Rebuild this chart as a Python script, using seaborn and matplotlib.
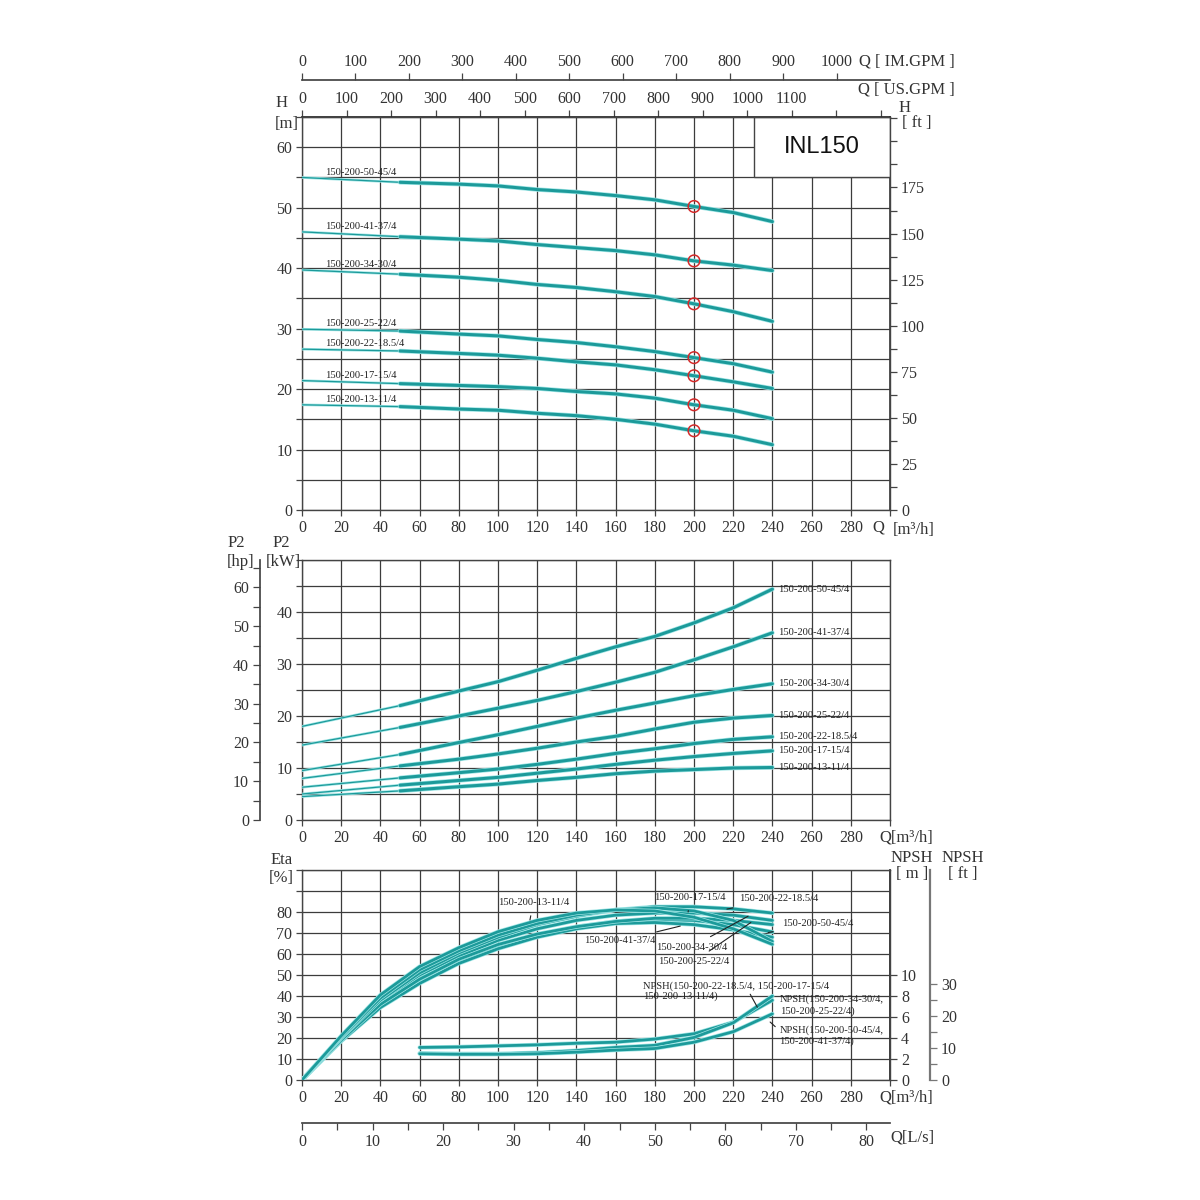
import numpy as np
import pandas as pd
import matplotlib
matplotlib.use("Agg")
import matplotlib.pyplot as plt
import matplotlib.patheffects as pe
from matplotlib.patches import Rectangle
from matplotlib.ticker import FixedLocator, FuncFormatter
import seaborn as sns

sns.set_theme(style="ticks")
plt.rcParams["font.family"] = ["Liberation Serif", "DejaVu Serif"]

# ---------------- data ----------------
models = ["150-200-50-45/4", "150-200-41-37/4", "150-200-34-30/4", "150-200-25-22/4",
          "150-200-22-18.5/4", "150-200-17-15/4", "150-200-13-11/4"]

q_curve = [0, 50, 80, 100, 120, 140, 160, 180, 200, 220, 240]

head_50_45 = [55.0, 54.2, 53.9, 53.6, 53.0, 52.6, 52.0, 51.3, 50.2, 49.2, 47.7]
head_41_37 = [46.0, 45.2, 44.8, 44.5, 43.9, 43.4, 42.9, 42.2, 41.2, 40.5, 39.6]
head_34_30 = [39.7, 39.0, 38.5, 38.0, 37.3, 36.8, 36.1, 35.3, 34.1, 32.8, 31.2]
head_25_22 = [29.9, 29.6, 29.1, 28.8, 28.2, 27.7, 27.0, 26.2, 25.2, 24.2, 22.8]
head_22_18 = [26.6, 26.3, 25.9, 25.6, 25.1, 24.5, 24.0, 23.2, 22.2, 21.2, 20.1]
head_17_15 = [21.4, 20.9, 20.6, 20.4, 20.1, 19.6, 19.2, 18.5, 17.4, 16.5, 15.1]
head_13_11 = [17.4, 17.1, 16.7, 16.5, 16.0, 15.6, 15.0, 14.2, 13.1, 12.2, 10.8]

power_50_45 = [18.0, 22.0, 24.8, 26.6, 28.8, 31.1, 33.3, 35.3, 37.9, 40.8, 44.4]
power_41_37 = [14.4, 17.8, 20.0, 21.5, 23.0, 24.7, 26.5, 28.4, 30.8, 33.3, 36.0]
power_34_30 = [9.5, 12.6, 14.9, 16.4, 18.0, 19.6, 21.1, 22.5, 23.9, 25.1, 26.2]
power_25_22 = [8.0, 10.4, 11.7, 12.7, 13.8, 15.0, 16.1, 17.5, 18.8, 19.6, 20.1]
power_22_18 = [6.3, 8.1, 9.1, 9.8, 10.7, 11.7, 12.8, 13.7, 14.7, 15.5, 16.0]
power_17_15 = [5.0, 6.7, 7.6, 8.2, 9.0, 9.8, 10.7, 11.5, 12.2, 12.8, 13.3]
power_13_11 = [4.5, 5.6, 6.4, 6.9, 7.6, 8.2, 8.9, 9.4, 9.7, 10.0, 10.1]

q_eta = [0, 20, 40, 60, 80, 100, 120, 140, 160, 180, 200, 220, 240]
eta_50_45 = [0, 19.0, 35.0, 47.0, 56.5, 63.5, 69.0, 73.0, 75.5, 76.5, 76.0, 74.0, 70.5]
eta_41_37 = [0, 18.5, 34.5, 46.0, 55.5, 62.5, 68.0, 72.0, 74.5, 75.0, 74.0, 71.5, 68.0]
eta_34_30 = [0, 19.5, 37.0, 50.0, 59.0, 66.5, 72.0, 76.0, 78.5, 79.5, 79.5, 78.5, 76.0]
eta_25_22 = [0, 19.0, 36.0, 48.0, 57.5, 64.5, 69.5, 73.0, 75.5, 77.0, 77.0, 76.0, 74.0]
eta_22_18 = [0, 20.0, 38.0, 51.0, 60.5, 68.0, 74.0, 78.0, 81.0, 82.5, 82.5, 81.5, 79.5]
eta_17_15 = [0, 20.5, 39.0, 52.5, 61.5, 69.0, 74.5, 78.5, 81.0, 82.0, 80.5, 76.0, 66.0]
eta_13_11 = [0, 21.0, 40.5, 54.0, 63.0, 70.6, 76.0, 79.5, 81.0, 80.5, 77.5, 72.0, 64.6]

q_npsh = [60, 80, 100, 120, 140, 160, 180, 200, 220, 240]
npsh_small = [3.1, 3.15, 3.25, 3.35, 3.5, 3.6, 3.9, 4.4, 5.5, 7.6]    # 22-18.5, 17-15, 13-11
npsh_mid = [2.55, 2.5, 2.5, 2.6, 2.8, 3.1, 3.3, 4.05, 5.45, 8.0]      # 34-30, 25-22
npsh_large = [2.5, 2.45, 2.45, 2.5, 2.65, 2.85, 3.0, 3.6, 4.6, 6.3]   # 50-45, 41-37

q_duty = 200

heads = [head_50_45, head_41_37, head_34_30, head_25_22, head_22_18, head_17_15, head_13_11]
powers = [power_50_45, power_41_37, power_34_30, power_25_22, power_22_18, power_17_15, power_13_11]
etas = [eta_50_45, eta_41_37, eta_34_30, eta_25_22, eta_22_18, eta_17_15, eta_13_11]

# ---------------- style ----------------
TEAL = "#1c9a9a"
HALO = "#9fe6e6"
GRID = "#3c3c3c"
TXT = "#333333"
TICKF = 11.5
LBLF = 7.6

fig = plt.figure(figsize=(12, 12), dpi=100)
fig.patch.set_facecolor("white")


def axes_px(x0, y0, x1, y1):
    return fig.add_axes([x0 / 1200, 1 - y1 / 1200, (x1 - x0) / 1200, (y1 - y0) / 1200])


def ftext(x, y, s, **kw):
    kw.setdefault("fontsize", 12)
    kw.setdefault("color", TXT)
    fig.text(x / 1200, 1 - y / 1200, s, **kw)


def curve(ax, q, v, lw, z=3):
    sns.lineplot(x=q, y=v, ax=ax, color=TEAL, lw=lw, sort=False, estimator=None,
                 legend=False, zorder=z,
                 path_effects=[pe.Stroke(linewidth=lw + 1.0, foreground=HALO), pe.Normal()])


def fmt_upto(limit, step):
    def f(v, p):
        if v <= limit + 1e-6 and abs(v / step - round(v / step)) < 1e-6:
            return f"{v:.0f}"
        return ""
    return FuncFormatter(f)


def base_axes(ax, ymax, ystep, ylab_max, ylab_step):
    ax.set_xlim(0, 300)
    ax.set_ylim(0, ymax)
    ax.xaxis.set_major_locator(FixedLocator(np.arange(0, 301, 20)))
    ax.xaxis.set_major_formatter(fmt_upto(280, 20))
    ax.yaxis.set_major_locator(FixedLocator(np.arange(0, ymax + 0.01, ystep)))
    ax.yaxis.set_major_formatter(fmt_upto(ylab_max, ylab_step))
    ax.grid(True, color=GRID, lw=0.9)
    ax.set_axisbelow(True)
    for s in ax.spines.values():
        s.set_color("#444444")
        s.set_linewidth(1.0)
    ax.tick_params(direction="out", length=4, width=0.9, color="#444444",
                   labelsize=TICKF, labelcolor=TXT, pad=3)
    ax.set_xlabel("")
    ax.set_ylabel("")


# ---------------- top: head ----------------
ax1 = axes_px(302, 117, 890, 510)
base_axes(ax1, 65, 5, 60, 10)
for name, h in zip(models, heads):
    curve(ax1, q_curve[:2], h[:2], 0.9)
    curve(ax1, q_curve[1:], h[1:], 2.2)
    ax1.text(12, h[0] + 0.15, name, fontsize=LBLF, color="#222222", ha="left", va="bottom", zorder=5)
duty_h = [h[q_curve.index(q_duty)] for h in heads]
ax1.scatter([q_duty] * len(duty_h), duty_h, s=70, facecolors="none", edgecolors="#d42a2a",
            linewidths=1.1, zorder=6)
ax1.add_patch(Rectangle((230.5, 55), 69.5, 10, facecolor="white", edgecolor="#444444",
                        lw=1.0, zorder=1.5))
ax1.text(265, 60, "INL150", fontsize=17, family=["Liberation Sans"], color="#111111",
         ha="center", va="center", zorder=5)

ft = ax1.secondary_yaxis("right", functions=(lambda m: m * 3.28084, lambda f: f / 3.28084))
ft.yaxis.set_major_locator(FixedLocator(np.arange(0, 213, 12.5)))
ft.yaxis.set_major_formatter(fmt_upto(175, 25))
ft.tick_params(direction="out", length=5, width=0.9, color="#444444", labelsize=TICKF,
               labelcolor=TXT, pad=3)
ft.spines["right"].set_color("#444444")

us = ax1.secondary_xaxis("top", functions=(lambda q: q * 4.40287, lambda g: g / 4.40287))
us.xaxis.set_major_locator(FixedLocator(np.arange(0, 1301, 100)))
us.xaxis.set_major_formatter(fmt_upto(1100, 100))
us.tick_params(direction="out", length=5, width=0.9, color="#444444", labelsize=TICKF,
               labelcolor=TXT, pad=2)

im = ax1.secondary_xaxis(1 + 37 / 393, functions=(lambda q: q * 3.66615, lambda g: g / 3.66615))
im.xaxis.set_major_locator(FixedLocator(np.arange(0, 1101, 100)))
im.xaxis.set_major_formatter(fmt_upto(1000, 100))
im.tick_params(direction="out", length=5, width=0.9, color="#444444", labelsize=TICKF,
               labelcolor=TXT, pad=2)
im.spines["top"].set_color("#444444")

ftext(955, 62, "Q [ IM.GPM ]", ha="right", va="center")
ftext(955, 90, "Q [ US.GPM ]", ha="right", va="center")
ftext(282, 103, "H", ha="center", va="center")
ftext(287, 124, "[m]", ha="center", va="center")
ftext(905, 108, "H", ha="center", va="center")
ftext(917, 123, "[ ft ]", ha="center", va="center")
ftext(878, 528, "Q", ha="center", va="center")
ftext(893, 530, "[m³/h]", ha="left", va="center")

# ---------------- middle: power ----------------
ax2 = axes_px(302, 560, 890, 820)
base_axes(ax2, 50, 5, 40, 10)
for name, p in zip(models, powers):
    curve(ax2, q_curve[:2], p[:2], 0.9)
    curve(ax2, q_curve[1:], p[1:], 2.2)
    ax2.text(243, p[-1], name, fontsize=LBLF, color="#222222", ha="left", va="center", zorder=5)

hp = ax2.secondary_yaxis(-42 / 588, functions=(lambda k: k * 1.34102, lambda h: h / 1.34102))
hp.yaxis.set_major_locator(FixedLocator(np.arange(0, 67, 5)))
hp.yaxis.set_major_formatter(fmt_upto(60, 10))
hp.tick_params(direction="out", length=5, width=0.9, color="#444444", labelsize=TICKF,
               labelcolor=TXT, pad=3)
hp.spines["left"].set_color("#444444")

ftext(236, 543, "P2", ha="center", va="center")
ftext(281, 543, "P2", ha="center", va="center")
ftext(241, 562, "[hp]", ha="center", va="center")
ftext(283, 562, "[kW]", ha="center", va="center")
ftext(879, 837, "Q[m³/h]", ha="left", va="center")

# ---------------- bottom: efficiency & NPSH ----------------
ax3 = axes_px(302, 870, 890, 1080)
base_axes(ax3, 100, 10, 80, 10)
for e in etas:
    curve(ax3, q_eta, e, 2.0)
for n in (npsh_small, npsh_mid, npsh_large):
    curve(ax3, q_npsh, [v * 5 for v in n], 2.0)

npm = ax3.secondary_yaxis("right", functions=(lambda e: e / 5, lambda m: m * 5))
npm.yaxis.set_major_locator(FixedLocator(np.arange(0, 10.1, 2)))
npm.tick_params(direction="out", length=5, width=0.9, color="#444444", labelsize=TICKF,
                labelcolor=TXT, pad=3)
npm.yaxis.set_major_formatter(FuncFormatter(lambda v, p: f"{v:.0f}"))

npf = ax3.secondary_yaxis(1 + 40 / 588, functions=(lambda e: e / 5 * 3.28084, lambda f: f / 3.28084 * 5))
npf.yaxis.set_major_locator(FixedLocator(np.arange(0, 31, 5)))
npf.yaxis.set_major_formatter(fmt_upto(30, 10))
npf.tick_params(direction="out", length=5, width=0.9, color="#777777", labelsize=TICKF,
                labelcolor=TXT, pad=3)
npf.spines["right"].set_color("#777777")
npf.spines["right"].set_linewidth(1.6)

ls = ax3.secondary_xaxis(-43 / 210, functions=(lambda q: q / 3.6, lambda l: l * 3.6))
ls.xaxis.set_major_locator(FixedLocator(np.arange(0, 83, 5)))
ls.xaxis.set_major_formatter(fmt_upto(80, 10))
ls.tick_params(direction="out", length=5, width=0.9, color="#444444", labelsize=TICKF,
               labelcolor=TXT, pad=3)
ls.spines["bottom"].set_color("#444444")

eta_labels = [
    ("150-200-13-11/4", (118, 84.5), (116.3, 76.2)),
    ("150-200-17-15/4", (198, 87.0), (197, 80.0)),
    ("150-200-22-18.5/4", (243, 86.2), (216.8, 81.4)),
    ("150-200-50-45/4", (263, 74.5), (237.8, 70.2)),
    ("150-200-41-37/4", (162, 66.2), (193, 73.3)),
    ("150-200-34-30/4", (198.6, 63.3), (227.6, 78.0)),
    ("150-200-25-22/4", (199.6, 56.2), (229, 75.0)),
]
for name, txy, pxy in eta_labels:
    ax3.annotate(name, xy=pxy, xytext=txy, fontsize=LBLF, color="#222222", ha="center",
                 va="center", zorder=6,
                 arrowprops=dict(arrowstyle="-", color="#222222", lw=0.8, shrinkA=4, shrinkB=0))

ax3.text(174, 44.8, "NPSH(150-200-22-18.5/4, 150-200-17-15/4", fontsize=LBLF, color="#222222",
         ha="left", va="center", zorder=6)
ax3.text(174, 40.0, "150-200-13-11/4)", fontsize=LBLF, color="#222222", ha="left", va="center",
         zorder=6)
ax3.annotate("", xy=(233, 33.5), xytext=(228, 42.0),
             arrowprops=dict(arrowstyle="-", color="#222222", lw=0.8))
ax3.text(244, 38.6, "NPSH(150-200-34-30/4,", fontsize=LBLF, color="#222222", ha="left",
         va="center", zorder=6)
ax3.text(244, 32.9, "150-200-25-22/4)", fontsize=LBLF, color="#222222", ha="left", va="center",
         zorder=6)
ax3.text(243.5, 23.8, "NPSH(150-200-50-45/4,", fontsize=LBLF, color="#222222", ha="left",
         va="center", zorder=6)
ax3.text(243.5, 18.6, "150-200-41-37/4)", fontsize=LBLF, color="#222222", ha="left", va="center",
         zorder=6)
ax3.annotate("", xy=(237.8, 28.5), xytext=(242.5, 24.5),
             arrowprops=dict(arrowstyle="-", color="#222222", lw=0.8))

ftext(282, 860, "Eta", ha="center", va="center")
ftext(281, 878, "[%]", ha="center", va="center")
ftext(912, 858, "NPSH", ha="center", va="center")
ftext(963, 858, "NPSH", ha="center", va="center")
ftext(912, 874, "[ m ]", ha="center", va="center")
ftext(963, 874, "[ ft ]", ha="center", va="center")
ftext(879, 1097, "Q[m³/h]", ha="left", va="center")
ftext(890, 1137, "Q[L/s]", ha="left", va="center")

fig.savefig("out.png", dpi=100, facecolor="white")
